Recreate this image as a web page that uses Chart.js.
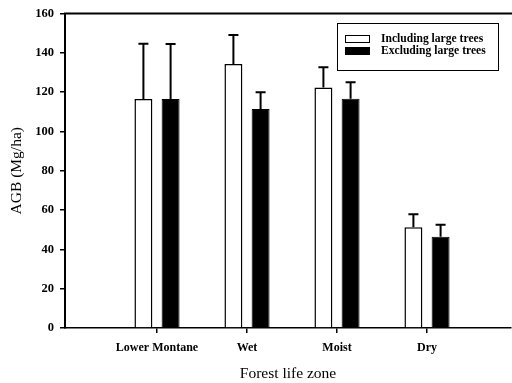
<!DOCTYPE html>
<html><head><meta charset="utf-8">
<script src="https://cdn.jsdelivr.net/npm/chart.js@4.4.1/dist/chart.umd.min.js"></script>
<style>html,body{margin:0;padding:0;background:#fff}#wrap{width:512px;height:383px}</style>
</head><body><div id="wrap"><canvas id="c" width="512" height="383"></canvas></div>
<script>
const categories = ['Lower Montane', 'Wet', 'Moist', 'Dry'];
const includingLarge = [116.5, 134.3, 122.3, 51.3];
const includingErr = [28.1, 14.7, 10.4, 6.6];
const excludingLarge = [116.5, 111.4, 116.6, 46.4];
const excludingErr = [28.0, 8.6, 8.4, 6.1];
const yTicks = [0, 20, 40, 60, 80, 100, 120, 140, 160];

const serif = '"Liberation Serif", "Times New Roman", serif';

const errPlugin = {
  id: 'errbars',
  afterDatasetsDraw(chart) {
    const ctx = chart.ctx, ys = chart.scales.y;
    const errs = [includingErr, excludingErr];
    chart.data.datasets.forEach((ds, di) => {
      const meta = chart.getDatasetMeta(di);
      meta.data.forEach((el, i) => {
        const top = ys.getPixelForValue(ds.data[i].y + errs[di][i]);
        ctx.save();
        ctx.strokeStyle = '#000';
        ctx.lineWidth = 2;
        ctx.beginPath();
        ctx.moveTo(el.x, el.y);
        ctx.lineTo(el.x, top);
        ctx.moveTo(el.x - 5, top);
        ctx.lineTo(el.x + 5, top);
        ctx.stroke();
        ctx.restore();
      });
    });
  }
};

const framePlugin = {
  id: 'frame',
  afterDraw(chart) {
    const ctx = chart.ctx, a = chart.chartArea;
    ctx.save();
    ctx.strokeStyle = '#000';
    ctx.lineWidth = 2;
    ctx.beginPath();
    ctx.moveTo(a.left - 1, a.top);
    ctx.lineTo(chart.width, a.top);
    ctx.stroke();
    // legend
    const bx = 337, by = 23, bw = 161, bh = 47;
    ctx.lineWidth = 1;
    ctx.fillStyle = '#fff';
    ctx.fillRect(bx, by, bw, bh);
    ctx.strokeRect(bx + 0.5, by + 0.5, bw, bh);
    ctx.font = 'bold 11.6px ' + serif;
    ctx.textBaseline = 'middle';
    ctx.textAlign = 'left';
    chart.data.datasets.forEach((ds, i) => {
      const yy = by + 16 + i * 12;
      ctx.fillStyle = ds.backgroundColor;
      ctx.fillRect(345, yy - 3, 24, 6);
      ctx.strokeStyle = '#000';
      ctx.lineWidth = 1;
      ctx.strokeRect(345.5, yy - 3.5, 24, 7);
      ctx.fillStyle = '#000';
      ctx.fillText(ds.label, 381, yy);
    });
    ctx.restore();
  }
};

new Chart(document.getElementById('c'), {
  type: 'bar',
  data: {
    datasets: [
      { label: 'Including large trees', data: includingLarge.map((v, i) => ({x: i + 1, y: v})),
        backgroundColor: '#ffffff', borderColor: '#000', borderWidth: 1.5 },
      { label: 'Excluding large trees', data: excludingLarge.map((v, i) => ({x: i + 1, y: v})),
        backgroundColor: '#000000', borderColor: '#000', borderWidth: 1 }
    ]
  },
  options: {
    responsive: false,
    animation: false,
    devicePixelRatio: 1,
    layout: { padding: { top: 12, right: 1, left: 0, bottom: 0 } },
    categoryPercentage: 0.604,
    barPercentage: 0.66,
    plugins: { legend: { display: false }, tooltip: { enabled: false } },
    scales: {
      x: {
        type: 'linear',
        offset: false,
        bounds: 'data',
        min: 1 - 92 / 90,
        max: 4 + 84 / 90,
        afterBuildTicks(s) { s.ticks = categories.map((c, i) => ({ value: i + 1 })); },
        afterFit(s) { s.height = 55; },
        ticks: { callback: (v) => categories[Math.round(v) - 1], color: '#000', padding: 8,
          font: { family: serif, size: 12, weight: 'bold' }, maxRotation: 0, autoSkip: false },
        grid: { offset: false, drawOnChartArea: false, drawTicks: true, tickLength: 5, color: '#000', lineWidth: 1.5 },
        border: { display: true, color: '#000', width: 1.5 },
        title: { display: true, text: 'Forest life zone', color: '#000',
          font: { family: serif, size: 15.5 }, padding: { top: 0, bottom: 0 } }
      },
      y: {
        min: 0, max: 160,
        afterBuildTicks(s) { s.ticks = yTicks.map(v => ({ value: v })); },
        afterFit(s) { s.width = 65; },
        ticks: { color: '#000', padding: 6, font: { family: serif, size: 12.5, weight: 'bold' } },
        grid: { drawOnChartArea: false, drawTicks: true, tickLength: 5, color: '#000', lineWidth: 1.5 },
        border: { display: true, color: '#000', width: 2 },
        title: { display: true, text: 'AGB (Mg/ha)', color: '#000',
          font: { family: serif, size: 15.5 }, padding: { top: 8, bottom: 0 } }
      }
    }
  },
  plugins: [errPlugin, framePlugin]
});
</script></body></html>
